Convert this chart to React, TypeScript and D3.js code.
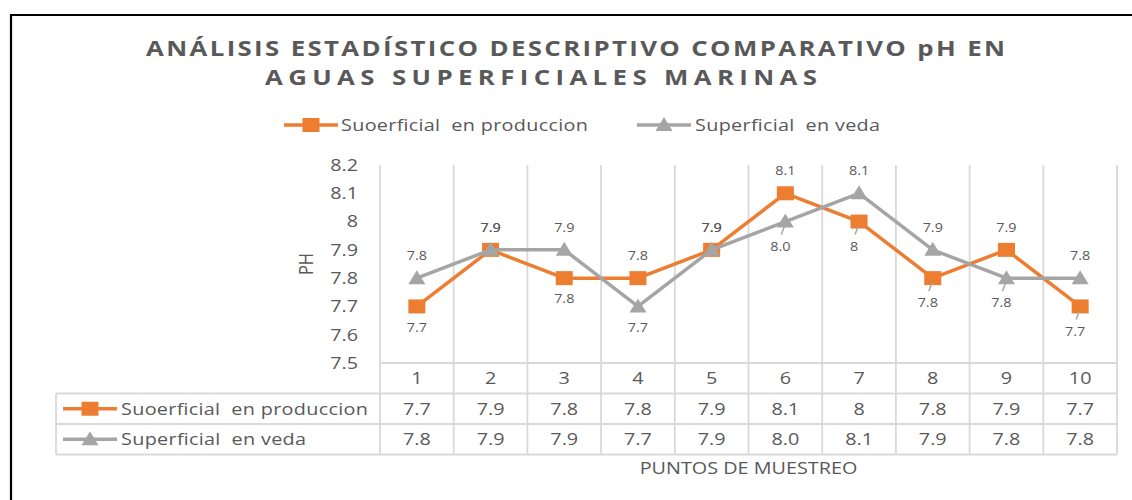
import React from 'react'
import * as d3 from 'd3'

// chart data
const PUNTOS = ['1', '2', '3', '4', '5', '6', '7', '8', '9', '10']
const PRODUCCION = [7.7, 7.9, 7.8, 7.8, 7.9, 8.1, 8.0, 7.8, 7.9, 7.7]
const VEDA = [7.8, 7.9, 7.9, 7.7, 7.9, 8.0, 8.1, 7.9, 7.8, 7.8]
// what the data table prints (excel "general" format)
const PRODUCCION_TXT = ['7.7', '7.9', '7.8', '7.8', '7.9', '8.1', '8', '7.8', '7.9', '7.7']
const VEDA_TXT = ['7.8', '7.9', '7.9', '7.7', '7.9', '8.0', '8.1', '7.9', '7.8', '7.8']
const Y_TICKS = [7.5, 7.6, 7.7, 7.8, 7.9, 8.0, 8.1, 8.2]

// data label placement per point: 'a' above, 'b' below, 'L' below with leader line
const PROD_LABEL_POS = ['b', 'a', 'b', 'a', 'a', 'a', 'L', 'L', 'a', 'L']
const VEDA_LABEL_POS = ['a', 'a', 'a', 'b', 'a', 'L', 'a', 'a', 'L', 'a']

const TITLE_1 = 'ANÁLISIS ESTADÍSTICO DESCRIPTIVO COMPARATIVO pH EN'
const TITLE_2 = 'AGUAS SUPERFICIALES MARINAS'
const NAME_PROD = 'Suoerficial  en produccion'
const NAME_VEDA = 'Superficial  en veda'

const ORANGE = '#ED7D31'
const GRAY = '#A5A5A5'
const TEXT = '#595959'
const GRID = '#D9D9D9'
const FONT = '"Open Sans", sans-serif'
const SX = 1.2 // the source picture is stretched sideways

const W = 1132
const H = 500
const PLOT = { left: 380, right: 1117, top: 165, bottom: 363 }
const ROW_H = 30.5

type TProps = {
  x: number; y: number; size?: number; anchor?: string; weight?: number
  len?: number; children: React.ReactNode
}

// text drawn with the same sideways stretch as the reference
function T({ x, y, size = 16.5, anchor = 'start', weight = 400, len, children }: TProps) {
  return (
    <text transform={`translate(${x},${y}) scale(${SX},1)`} dy="0.35em" textAnchor={anchor}
      fontSize={size} fontWeight={weight} fill={TEXT} style={{ whiteSpace: 'pre' }}
      textLength={len ? len / SX : undefined} lengthAdjust={len ? 'spacing' : undefined}>
      {children}
    </text>
  )
}

function Square({ x, y }: { x: number; y: number }) {
  return <rect x={x - 8.5} y={y - 7} width={17} height={14} fill={ORANGE} />
}

function Triangle({ x, y }: { x: number; y: number }) {
  return <path d={`M${x},${y - 8}L${x + 8.5},${y + 6}L${x - 8.5},${y + 6}Z`} fill={GRAY} />
}

function LegendKey({ x, y, color, kind }: { x: number; y: number; color: string; kind: 'sq' | 'tri' }) {
  return (
    <g>
      <line x1={x} x2={x + 54} y1={y} y2={y} stroke={color} strokeWidth={3.5} />
      {kind === 'sq' ? <Square x={x + 27} y={y} /> : <Triangle x={x + 27} y={y} />}
    </g>
  )
}

export default function App() {
  const x = d3.scaleBand<string>().domain(PUNTOS).range([PLOT.left, PLOT.right])
  const y = d3.scaleLinear().domain([7.5, 8.2]).range([PLOT.bottom, PLOT.top])
  const cx = (d: string) => (x(d) ?? 0) + x.bandwidth() / 2

  const line = d3.line<number>()
    .x((_, i) => cx(PUNTOS[i]))
    .y(d => y(d))

  const labels = (vals: number[], txt: string[], pos: string[]) =>
    vals.map((v, i) => {
      const px = cx(PUNTOS[i])
      const py = y(v)
      const p = pos[i]
      const lx = p === 'L' ? px - 5 : px
      const ly = p === 'a' ? py - 22 : p === 'b' ? py + 21 : py + 25
      return (
        <g key={i}>
          {p === 'L' && (
            <line x1={px - 4} y1={py + 13} x2={px - 1} y2={py + 5} stroke={GRAY} strokeWidth={1.5} />
          )}
          <T x={lx} y={ly} size={12} anchor="middle">{txt[i]}</T>
        </g>
      )
    })

  const tableTop = PLOT.bottom
  const rows = [tableTop, tableTop + ROW_H, tableTop + 2 * ROW_H, tableTop + 3 * ROW_H]
  const tableLeft = 56
  const mid = (a: number, b: number) => (a + b) / 2

  return (
    <svg width={W} height={H} style={{ position: 'absolute', left: 0, top: 0, background: '#fff' }}
      fontFamily={FONT}>
      {/* frame */}
      <path d={`M11,${H + 5}L11,15L${W + 5},15`} fill="none" stroke="#000" strokeWidth={2.2} />

      {/* title */}
      <T x={146} y={48} size={21.5} weight={700} len={859}>{TITLE_1}</T>
      <T x={265} y={77} size={21.5} weight={700} len={552}>{TITLE_2}</T>

      {/* legend */}
      <LegendKey x={284} y={125} color={ORANGE} kind="sq" />
      <T x={341} y={125} len={247}>{NAME_PROD}</T>
      <LegendKey x={637} y={125} color={GRAY} kind="tri" />
      <T x={695} y={125} len={185}>{NAME_VEDA}</T>

      {/* y axis */}
      {Y_TICKS.map(t => (
        <T key={t} x={358} y={y(t)} anchor="end">{String(+t.toFixed(1))}</T>
      ))}
      <text transform={`translate(306,${mid(PLOT.top, PLOT.bottom)}) rotate(-90) scale(1,${SX})`} textAnchor="middle"
        dy="0.35em" fontSize={16.5} fill={TEXT}>PH</text>

      {/* vertical gridlines through plot and table */}
      {[...PUNTOS.map(d => x(d) ?? 0), PLOT.right].map((gx, i) => (
        <line key={i} x1={gx} x2={gx} y1={PLOT.top} y2={rows[3]} stroke={GRID} strokeWidth={1.8} />
      ))}

      {/* table */}
      <line x1={PLOT.left} x2={PLOT.right} y1={rows[0]} y2={rows[0]} stroke={GRID} strokeWidth={1.8} />
      {[rows[1], rows[2], rows[3]].map((ry, i) => (
        <line key={i} x1={tableLeft} x2={PLOT.right} y1={ry} y2={ry} stroke={GRID} strokeWidth={1.8} />
      ))}
      <line x1={tableLeft} x2={tableLeft} y1={rows[1]} y2={rows[3]} stroke={GRID} strokeWidth={1.8} />
      {PUNTOS.map(d => (
        <T key={d} x={cx(d)} y={mid(rows[0], rows[1])} anchor="middle">{d}</T>
      ))}
      {PUNTOS.map((d, i) => (
        <T key={d} x={cx(d)} y={mid(rows[1], rows[2])} anchor="middle">{PRODUCCION_TXT[i]}</T>
      ))}
      {PUNTOS.map((d, i) => (
        <T key={d} x={cx(d)} y={mid(rows[2], rows[3])} anchor="middle">{VEDA_TXT[i]}</T>
      ))}
      <LegendKey x={63} y={mid(rows[1], rows[2])} color={ORANGE} kind="sq" />
      <T x={121} y={mid(rows[1], rows[2])} len={247}>{NAME_PROD}</T>
      <LegendKey x={63} y={mid(rows[2], rows[3])} color={GRAY} kind="tri" />
      <T x={121} y={mid(rows[2], rows[3])} len={185}>{NAME_VEDA}</T>

      {/* x axis title */}
      <T x={mid(PLOT.left, PLOT.right)} y={468} anchor="middle">PUNTOS DE MUESTREO</T>

      {/* series */}
      <path d={line(PRODUCCION) ?? ''} fill="none" stroke={ORANGE} strokeWidth={3.5} strokeLinejoin="round" />
      {PRODUCCION.map((v, i) => <Square key={i} x={cx(PUNTOS[i])} y={y(v)} />)}
      <path d={line(VEDA) ?? ''} fill="none" stroke={GRAY} strokeWidth={3.5} strokeLinejoin="round" />
      {VEDA.map((v, i) => <Triangle key={i} x={cx(PUNTOS[i])} y={y(v)} />)}

      {/* data labels */}
      {labels(PRODUCCION, PRODUCCION_TXT, PROD_LABEL_POS)}
      {labels(VEDA, VEDA_TXT, VEDA_LABEL_POS)}
    </svg>
  )
}
